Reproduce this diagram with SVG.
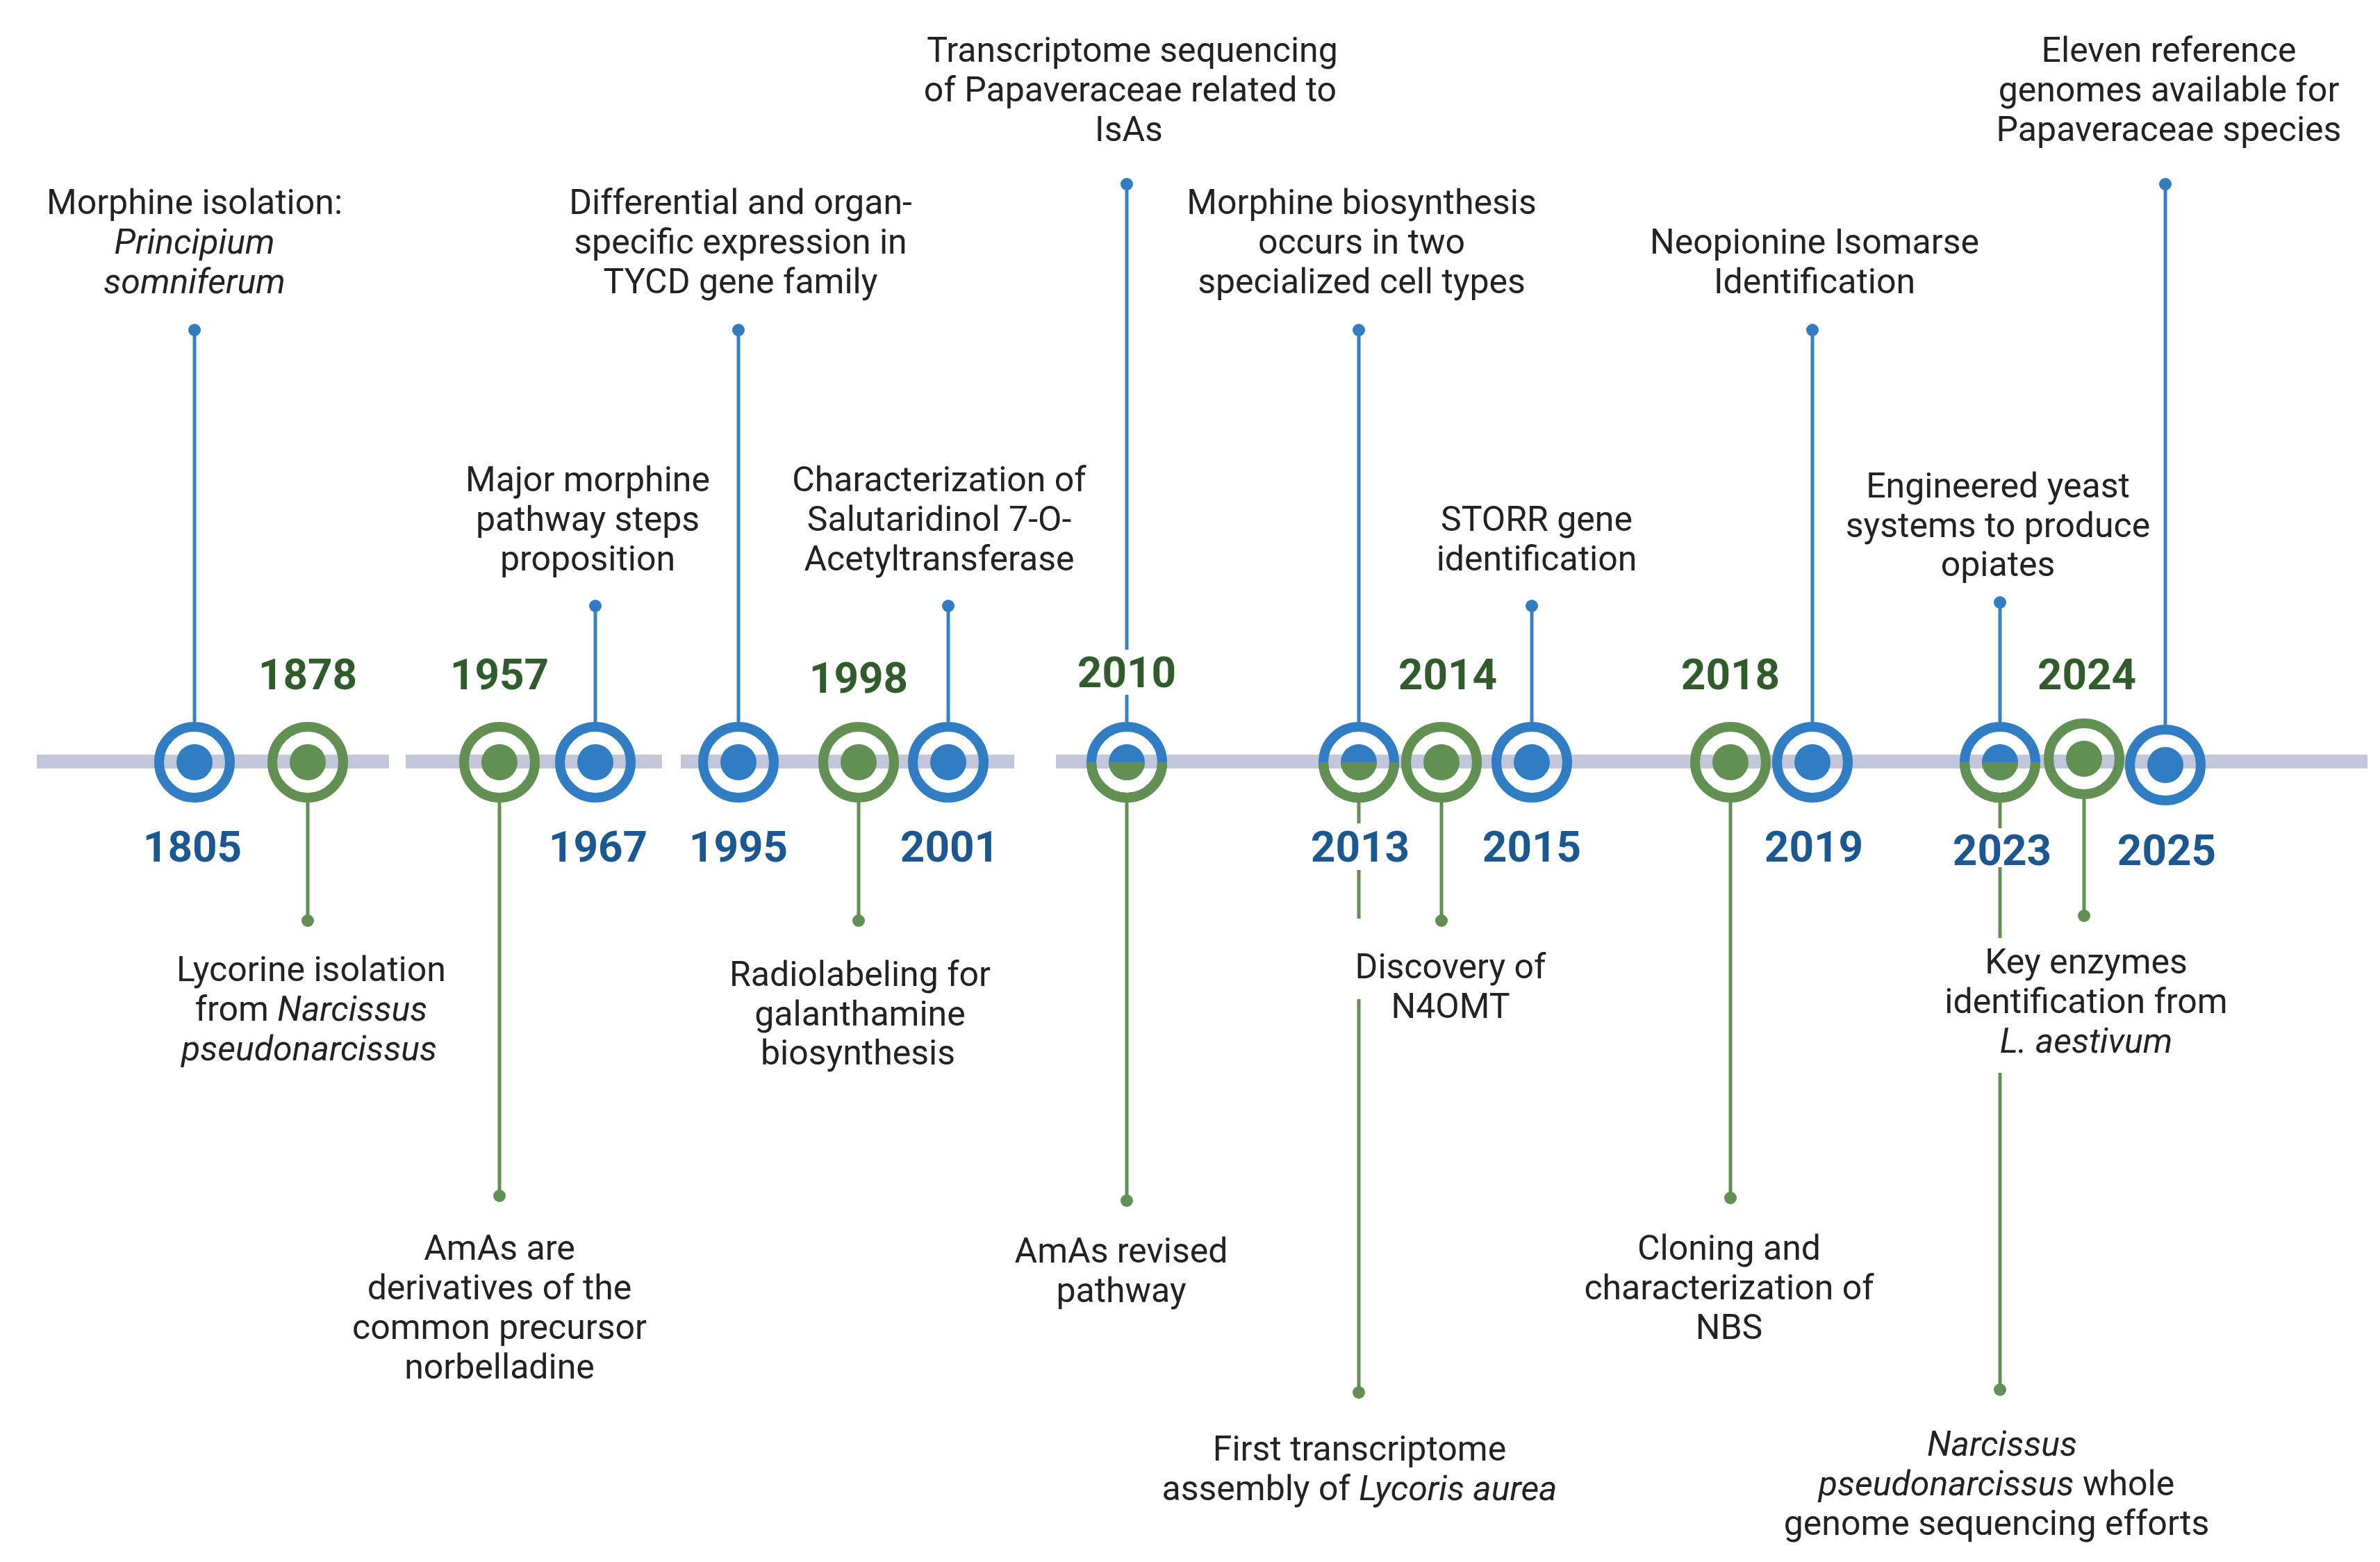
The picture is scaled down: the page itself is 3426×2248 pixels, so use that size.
<svg xmlns="http://www.w3.org/2000/svg" width="3426" height="2248" viewBox="0 0 3426 2248">
<style>
text{font-family:Roboto,"Liberation Sans",sans-serif;font-size:50px;fill:#222;text-anchor:middle}
.i{font-style:italic}
.yb{font-size:62px;font-weight:bold;fill:#1b5892}
.yg{font-size:62px;font-weight:bold;fill:#305c2c}
.bl{stroke:#3a7fc4;stroke-width:5;fill:none}
.gl{stroke:#628f52;stroke-width:5;fill:none}
.rb{fill:none;stroke:#317dc4;stroke-width:14}
.rg{fill:none;stroke:#628f52;stroke-width:14}
.db{fill:#317dc4}
.dg{fill:#628f52}
.bar{fill:#c1c6da}
</style>
<defs>
<clipPath id="low2010"><rect x="1500" y="1097" width="250" height="100"/></clipPath>
<clipPath id="low2013"><rect x="1880" y="1097" width="150" height="100"/></clipPath>
<clipPath id="low2023"><rect x="2800" y="1097" width="160" height="100"/></clipPath>
</defs>
<rect width="3426" height="2248" fill="#fff"/>
<g id="bar">
<rect class="bar" x="53" y="1086" width="507" height="20"/>
<rect class="bar" x="584" y="1086" width="369" height="20"/>
<rect class="bar" x="980" y="1086" width="480" height="20"/>
<rect class="bar" x="1520" y="1086" width="1888" height="20"/>
</g>
<g id="connectors">
<path class="bl" d="M280 475V1039M857 872V1039M1063 475V1039M1365 872V1039M1622 265V935M1622 1000V1039M1956 475V1039M2205 872V1039M2609 475V1039M2879 867V1039M3117 265V1043"/>
<circle class="db" cx="280" cy="475" r="9"/><circle class="db" cx="857" cy="872" r="9"/><circle class="db" cx="1063" cy="475" r="9"/><circle class="db" cx="1365" cy="872" r="9"/><circle class="db" cx="1622" cy="265" r="9"/><circle class="db" cx="1956" cy="475" r="9"/><circle class="db" cx="2205" cy="872" r="9"/><circle class="db" cx="2609" cy="475" r="9"/><circle class="db" cx="2879" cy="867" r="9"/><circle class="db" cx="3117" cy="265" r="9"/>
<path class="gl" d="M443 1155V1325M719 1155V1721M1236 1155V1325M1622 1155V1728M1956 1155V1185M1956 1252V1322M1956 1438V2004M2075 1155V1325M2491 1155V1724M2879 1155V1192M2879 1248V1350M2879 1544V2000M3000 1150V1318"/>
<circle class="dg" cx="443" cy="1325" r="9"/><circle class="dg" cx="719" cy="1721" r="9"/><circle class="dg" cx="1236" cy="1325" r="9"/><circle class="dg" cx="1622" cy="1728" r="9"/><circle class="dg" cx="1956" cy="2004" r="9"/><circle class="dg" cx="2075" cy="1325" r="9"/><circle class="dg" cx="2491" cy="1724" r="9"/><circle class="dg" cx="2879" cy="2000" r="9"/><circle class="dg" cx="3000" cy="1318" r="9"/>
</g>
<g id="n1805"><circle class="rb" cx="280" cy="1097" r="51"/><circle class="db" cx="280" cy="1097" r="26"/>
<text x="280" y="308">Morphine isolation:</text><text class="i" x="280" y="365">Principium</text><text class="i" x="280" y="422">somniferum</text><text class="yb" x="277" y="1240">1805</text></g>
<g id="n1878"><circle class="rg" cx="443" cy="1097" r="51"/><circle class="dg" cx="443" cy="1097" r="26"/>
<text class="yg" x="443" y="992">1878</text><text x="448" y="1412">Lycorine  isolation</text><text x="448" y="1469">from  <tspan class="i">Narcissus</tspan></text><text class="i" x="445" y="1526">pseudonarcissus</text></g>
<g id="n1957"><circle class="rg" cx="719" cy="1097" r="51"/><circle class="dg" cx="719" cy="1097" r="26"/>
<text class="yg" x="719" y="992">1957</text><text x="719" y="1813">AmAs are</text><text x="719" y="1870">derivatives of the</text><text x="719" y="1927">common precursor</text><text x="719" y="1984">norbelladine</text></g>
<g id="n1967"><circle class="rb" cx="857" cy="1097" r="51"/><circle class="db" cx="857" cy="1097" r="26"/>
<text x="846" y="707">Major morphine</text><text x="846" y="764">pathway steps</text><text x="846" y="821">proposition</text><text class="yb" x="861" y="1240">1967</text></g>
<g id="n1995"><circle class="rb" cx="1063" cy="1097" r="51"/><circle class="db" cx="1063" cy="1097" r="26"/>
<text x="1066" y="308">Differential and organ-</text><text x="1066" y="365">specific expression in</text><text x="1066" y="422">TYCD gene family</text><text class="yb" x="1063" y="1240">1995</text></g>
<g id="n1998"><circle class="rg" cx="1236" cy="1097" r="51"/><circle class="dg" cx="1236" cy="1097" r="26"/>
<text class="yg" x="1236" y="997">1998</text><text x="1238" y="1419">Radiolabeling for</text><text x="1238" y="1476">galanthamine</text><text x="1235" y="1532">biosynthesis</text></g>
<g id="n2001"><circle class="rb" cx="1365" cy="1097" r="51"/><circle class="db" cx="1365" cy="1097" r="26"/>
<text x="1352" y="707">Characterization of</text><text x="1352" y="764">Salutaridinol 7-O-</text><text x="1352" y="821">Acetyltransferase</text><text class="yb" x="1367" y="1240">2001</text></g>
<g id="n2010"><circle class="rb" cx="1622" cy="1097" r="51"/><circle class="db" cx="1622" cy="1097" r="26"/>
<g clip-path="url(#low2010)"><circle class="rg" cx="1622" cy="1097" r="51"/><circle class="dg" cx="1622" cy="1097" r="26"/></g>
<text x="1630" y="89">Transcriptome sequencing</text><text x="1627" y="146">of Papaveraceae related to</text><text x="1625" y="203">IsAs</text>
<text class="yg" x="1622" y="989">2010</text><text x="1614" y="1817">AmAs revised</text><text x="1614" y="1874">pathway</text></g>
<g id="n2013"><circle class="rb" cx="1956" cy="1097" r="51"/><circle class="db" cx="1956" cy="1097" r="26"/>
<g clip-path="url(#low2013)"><circle class="rg" cx="1956" cy="1097" r="51"/><circle class="dg" cx="1956" cy="1097" r="26"/></g>
<text x="1960" y="308">Morphine biosynthesis</text><text x="1960" y="365">occurs in two</text><text x="1960" y="422">specialized cell types</text>
<text class="yb" x="1958" y="1240">2013</text><text x="1957" y="2102">First transcriptome</text><text x="1957" y="2159">assembly of  <tspan class="i">Lycoris aurea</tspan></text></g>
<g id="n2014"><circle class="rg" cx="2075" cy="1097" r="51"/><circle class="dg" cx="2075" cy="1097" r="26"/>
<text class="yg" x="2084" y="992">2014</text><text x="2088" y="1408">Discovery of</text><text x="2088" y="1465">N4OMT</text></g>
<g id="n2015"><circle class="rb" cx="2205" cy="1097" r="51"/><circle class="db" cx="2205" cy="1097" r="26"/>
<text x="2212" y="764">STORR gene</text><text x="2212" y="821">identification</text><text class="yb" x="2205" y="1240">2015</text></g>
<g id="n2018"><circle class="rg" cx="2491" cy="1097" r="51"/><circle class="dg" cx="2491" cy="1097" r="26"/>
<text class="yg" x="2491" y="992">2018</text><text x="2489" y="1813">Cloning and</text><text x="2489" y="1870">characterization of</text><text x="2489" y="1927">NBS</text></g>
<g id="n2019"><circle class="rb" cx="2609" cy="1097" r="51"/><circle class="db" cx="2609" cy="1097" r="26"/>
<text x="2612" y="365">Neopionine Isomarse</text><text x="2612" y="422">Identification</text><text class="yb" x="2611" y="1240">2019</text></g>
<g id="n2023"><circle class="rb" cx="2879" cy="1097" r="51"/><circle class="db" cx="2879" cy="1097" r="26"/>
<g clip-path="url(#low2023)"><circle class="rg" cx="2879" cy="1097" r="51"/><circle class="dg" cx="2879" cy="1097" r="26"/></g>
<text x="2876" y="716">Engineered yeast</text><text x="2876" y="773">systems to produce</text><text x="2876" y="829">opiates</text>
<text class="yb" x="2882" y="1245">2023</text><text class="i" x="2882" y="2095">Narcissus</text><text x="2874" y="2152"><tspan class="i">pseudonarcissus</tspan> whole</text><text x="2874" y="2209">genome sequencing efforts</text></g>
<g id="n2024"><circle class="rg" cx="3000" cy="1092" r="51"/><circle class="dg" cx="3000" cy="1092" r="26"/>
<text class="yg" x="3004" y="992">2024</text><text x="3003" y="1401">Key enzymes</text><text x="3003" y="1458">identification from</text><text class="i" x="3003" y="1515">L. aestivum</text></g>
<g id="n2025"><circle class="rb" cx="3117" cy="1101" r="51"/><circle class="db" cx="3117" cy="1101" r="26"/>
<text x="3122" y="89">Eleven reference</text><text x="3122" y="146">genomes available for</text><text x="3122" y="203">Papaveraceae species</text><text class="yb" x="3119" y="1245">2025</text></g>
</svg>
